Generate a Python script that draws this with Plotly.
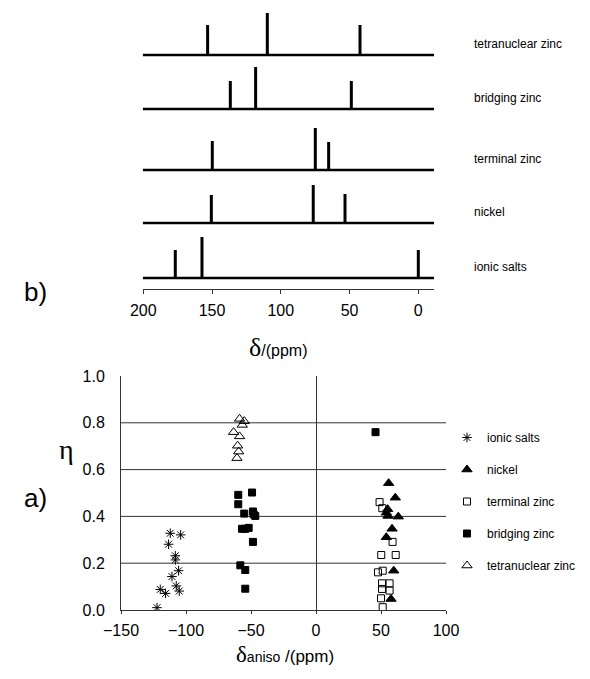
import plotly.graph_objects as go

W, H = 590, 679
def px(x): return x / W
def py(y): return 1 - y / H

# ---------------- top panel data (b) ----------------
spectra = ["ionic salts", "nickel", "terminal zinc", "bridging zinc", "tetranuclear zinc"]
peak_ppm = [
    [176.7, 157.3, 0.0],
    [150.5, 76.4, 53.3],
    [149.8, 74.9, 65.2],
    [136.7, 118.3, 48.7],
    [153.2, 109.8, 42.4],
]
peak_height = [
    [28, 41, 28],
    [28, 38, 29],
    [29, 42, 28],
    [28, 42, 28],
    [30, 42, 30],
]
spectrum_offsets = [11, 66, 119, 180, 234]
top_ticks = [200, 150, 100, 50, 0]
top_range = [200.4, -11.4]

# ---------------- bottom panel data (a) ----------------
ionic_x = [-112.1, -104.1, -113.4, -108.2, -108.2, -105.7, -110.8, -107.5, -105.2, -119.8, -115.7, -122.3]
ionic_y = [0.328, 0.321, 0.281, 0.232, 0.214, 0.168, 0.143, 0.103, 0.081, 0.088, 0.071, 0.010]

nickel_x = [55.9, 61.0, 55.1, 54.1, 55.4, 63.3, 58.5, 54.1, 59.8, 57.7]
nickel_y = [0.542, 0.480, 0.431, 0.416, 0.402, 0.399, 0.347, 0.311, 0.168, 0.047]

terminal_x = [48.9, 51.0, 58.9, 50.2, 61.3, 47.7, 51.3, 50.8, 56.6, 50.8, 56.6, 50.0, 51.3]
terminal_y = [0.461, 0.435, 0.291, 0.235, 0.235, 0.161, 0.168, 0.114, 0.114, 0.090, 0.083, 0.050, 0.012]

bridging_x = [-59.8, -49.2, -59.8, -55.2, -48.5, -48.0, -46.7, -56.9, -51.8, -54.4, -48.5, -58.2, -54.4, -54.4, 45.8]
bridging_y = [0.492, 0.502, 0.452, 0.412, 0.421, 0.409, 0.402, 0.347, 0.351, 0.347, 0.291, 0.191, 0.171, 0.091, 0.760]

tetra_x = [-58.8, -55.2, -56.7, -63.4, -58.8, -60.3, -59.5, -60.8]
tetra_y = [0.817, 0.807, 0.791, 0.760, 0.742, 0.702, 0.677, 0.649]

x2_ticks = [-150, -100, -50, 0, 50, 100]
y2_ticks = [0.0, 0.2, 0.4, 0.6, 0.8, 1.0]
grid_vals = [0.2, 0.4, 0.6, 0.8]

LINE = "#333333"
FONT = "Liberation Sans, Arial, sans-serif"

fig = go.Figure()

# top spectra
for name, pp, hh, off in zip(spectra, peak_ppm, peak_height, spectrum_offsets):
    fig.add_trace(go.Scatter(x=[top_range[0], top_range[1]], y=[off, off], mode="lines",
                             line=dict(color="black", width=2.6), showlegend=False,
                             hoverinfo="skip", xaxis="x", yaxis="y"))
    xs, ys = [], []
    for p, h in zip(pp, hh):
        xs += [p, p, None]
        ys += [off, off + h, None]
    fig.add_trace(go.Scatter(x=xs, y=ys, mode="lines", line=dict(color="black", width=3),
                             showlegend=False, name=name, xaxis="x", yaxis="y"))

# bottom scatter
series = [
    ("ionic salts", ionic_x, ionic_y, "asterisk-open", 8),
    ("nickel", nickel_x, nickel_y, "triangle-up", 9),
    ("terminal zinc", terminal_x, terminal_y, "square-open", 7),
    ("bridging zinc", bridging_x, bridging_y, "square", 7),
    ("tetranuclear zinc", tetra_x, tetra_y, "triangle-up-open", 9),
]
for i, (name, xs, ys, sym, sz) in enumerate(series):
    fig.add_trace(go.Scatter(x=xs, y=ys, mode="markers", name=name, legendgroup=str(i),
                             marker=dict(symbol=sym, size=sz, color="black",
                                         line=dict(color="black", width=1)),
                             xaxis="x2", yaxis="y2"))

shapes = []
for g in grid_vals:
    shapes.append(dict(type="line", xref="x2 domain", yref="y2", x0=0, x1=1, y0=g, y1=g,
                       line=dict(color=LINE, width=1), layer="below"))

annotations = []
for name, off in zip(spectra, spectrum_offsets):
    annotations.append(dict(text=name, xref="paper", yref="y", x=px(472), y=off + 11,
                            xanchor="left", yanchor="middle", showarrow=False,
                            font=dict(size=12, family=FONT, color="black")))
annotations += [
    dict(text="b)", xref="paper", yref="paper", x=px(22), y=py(292), showarrow=False,
         font=dict(size=26, family=FONT, color="black")),
    dict(text="a)", xref="paper", yref="paper", x=px(22), y=py(515), showarrow=False,
         font=dict(size=26, family=FONT, color="black")),
    dict(text="η", xref="paper", yref="paper", x=px(57), y=py(449), showarrow=False,
         font=dict(size=28, family="Liberation Serif, serif", color="black")),
    dict(text="<span style='font-family:Liberation Serif;font-size:26px'>δ</span>/(ppm)",
         xref="paper", yref="paper", x=px(278), y=py(347), showarrow=False,
         font=dict(size=16, family=FONT, color="black")),
    dict(text="<span style='font-family:Liberation Serif;font-size:23px'>δ</span>"
              "<span style='font-size:14px'>aniso</span> /(ppm)",
         xref="paper", yref="paper", x=px(285), y=py(669), showarrow=False,
         font=dict(size=17, family=FONT, color="black")),
]

fig.update_layout(
    width=W, height=H, autosize=False,
    margin=dict(l=0, r=0, t=0, b=0, autoexpand=False),
    paper_bgcolor="white", plot_bgcolor="white",
    font=dict(family=FONT, color="black"),
    xaxis=dict(domain=[px(142.7), px(434)], range=top_range, tickvals=top_ticks,
               ticks="outside", ticklen=4, tickcolor=LINE, showline=True, linecolor=LINE,
               linewidth=1, showgrid=False, zeroline=False, tickfont=dict(size=16),
               ticklabelstandoff=3, anchor="y", automargin=False),
    yaxis=dict(domain=[py(289), 1], range=[0, 289], visible=False, anchor="x"),
    xaxis2=dict(domain=[px(121), px(446)], range=[-150, 100], tickvals=x2_ticks,
                ticks="outside", ticklen=3, tickcolor=LINE, showline=True, linecolor=LINE,
                linewidth=1, showgrid=False, zeroline=True, zerolinecolor=LINE,
                zerolinewidth=1, tickfont=dict(size=16), ticklabelstandoff=3,
                anchor="y2", automargin=False),
    yaxis2=dict(domain=[py(610), py(376)], range=[0, 1], tickvals=y2_ticks, tickformat=".1f",
                ticks="", showline=True, linecolor=LINE, linewidth=1, showgrid=False,
                zeroline=False, tickfont=dict(size=16), ticklabelstandoff=12, anchor="x2",
                automargin=False),
    legend=dict(x=px(447), y=py(423), xanchor="left", yanchor="top",
                font=dict(size=12, family=FONT), tracegroupgap=13,
                bgcolor="rgba(0,0,0,0)"),
    shapes=shapes, annotations=annotations,
)

fig.write_html("out.html", config={"displayModeBar": False},
               post_script="document.body.style.margin='0';document.body.style.overflow='hidden';")
